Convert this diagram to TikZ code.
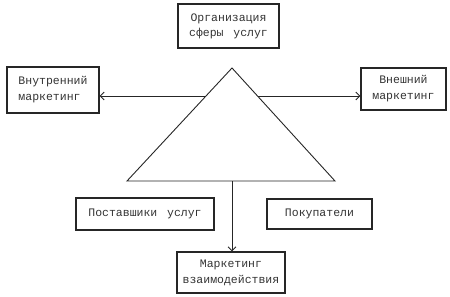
\documentclass[tikz,border=0pt]{standalone}
\usepackage{fontspec}
\setmonofont{Liberation Mono}
\usetikzlibrary{arrows.meta}
\tikzset{
  boxnode/.style={draw=black!85, line width=1.2pt, inner sep=0pt, align=center,
    text=black!80, font=\ttfamily\fontsize{11.5}{16}\selectfont},
  conn/.style={draw=black!85, line width=0.9pt, -{Straight Barb[length=4pt,width=8pt]}},
  tri/.style={draw=black!85, line width=0.9pt}
}
\begin{document}
\begin{tikzpicture}[x=1pt,y=-1pt]
\useasboundingbox (0,0) rectangle (450,297);
\node[boxnode, minimum width=101pt, minimum height=44pt, font=\ttfamily\fontsize{11.5}{15}\selectfont] (org) at (228.5,26) {Организация\\сферы\hspace{0.85em}услуг};
\node[boxnode, align=left, minimum width=92pt, minimum height=46pt] (inn) at (53,90) {Внутренний\\маркетинг};
\node[boxnode, minimum width=85pt, minimum height=42pt] (ext) at (403.5,89) {Внешний\\маркетинг};
\node[boxnode, minimum width=138pt, minimum height=32pt] (sup) at (145,214) {Поставшики\hspace{0.85em}услуг};
\node[boxnode, minimum width=105pt, minimum height=30pt] (cus) at (319.5,214) {Покупатели};
\node[boxnode, minimum width=108pt, minimum height=41pt] (mvz) at (231,272.5) {Маркетинг\\взаимодействия};
\coordinate (apex) at (232,68);
\coordinate (bl) at (127,181);
\coordinate (br) at (335,181);
\coordinate (tl) at (206,96);
\coordinate (tr) at (257.5,96);
\coordinate (bm) at (232,181);
\draw[tri] (apex) -- (bl) -- (br) -- cycle;
\draw[conn] (tl) -- (inn.east |- tl);
\draw[conn] (tr) -- (ext.west |- tr);
\draw[conn] (bm) -- (bm |- mvz.north);
\end{tikzpicture}
\end{document}
